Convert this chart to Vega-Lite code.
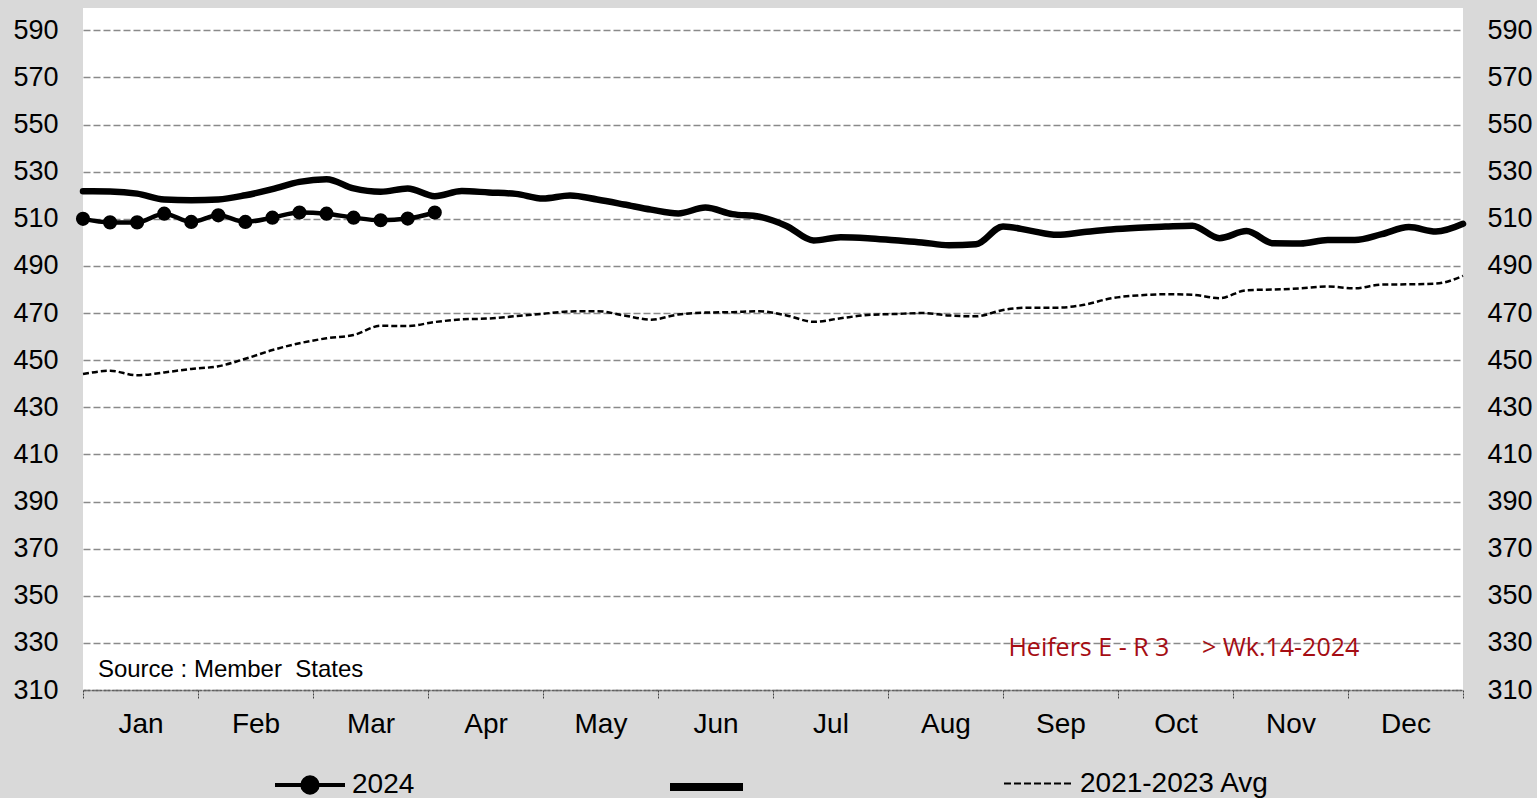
{
  "$schema": "https://vega.github.io/schema/vega-lite/v6.json",
  "width": 1380,
  "height": 682,
  "autosize": {"type": "none"},
  "padding": {"left": 83, "top": 8, "right": 74, "bottom": 108},
  "background": "#d9d9d9",
  "config": {"view": {"fill": "white", "stroke": null}, "font": "Liberation Sans"},
  "datasets": {
    "avg": [
      {"week":1,"price":444.1},{"week":2,"price":445.5},{"week":3,"price":443.6},{"week":4,"price":444.8},{"week":5,"price":446.3},{"week":6,"price":447.4},{"week":7,"price":450.6},{"week":8,"price":454.3},{"week":9,"price":457.2},{"week":10,"price":459.3},{"week":11,"price":460.7},{"week":12,"price":464.6},{"week":13,"price":464.5},{"week":14,"price":466.2},{"week":15,"price":467.3},{"week":16,"price":467.7},{"week":17,"price":468.7},{"week":18,"price":469.7},{"week":19,"price":470.7},{"week":20,"price":470.8},{"week":21,"price":469.0},{"week":22,"price":467.2},{"week":23,"price":469.4},{"week":24,"price":470.2},{"week":25,"price":470.4},{"week":26,"price":470.8},{"week":27,"price":469.0},{"week":28,"price":466.3},{"week":29,"price":467.8},{"week":30,"price":469.2},{"week":31,"price":469.6},{"week":32,"price":470.0},{"week":33,"price":469.0},{"week":34,"price":468.6},{"week":35,"price":471.3},{"week":36,"price":472.3},{"week":37,"price":472.3},{"week":38,"price":473.5},{"week":39,"price":476.3},{"week":40,"price":477.5},{"week":41,"price":478.0},{"week":42,"price":477.8},{"week":43,"price":476.3},{"week":44,"price":479.7},{"week":45,"price":480.0},{"week":46,"price":480.5},{"week":47,"price":481.3},{"week":48,"price":480.5},{"week":49,"price":482.1},{"week":50,"price":482.2},{"week":51,"price":482.5},{"week":52,"price":485.8}
    ],
    "y2023": [
      {"week":1,"price":521.7},{"week":2,"price":521.6},{"week":3,"price":520.7},{"week":4,"price":518.2},{"week":5,"price":517.9},{"week":6,"price":518.2},{"week":7,"price":520.0},{"week":8,"price":522.6},{"week":9,"price":525.7},{"week":10,"price":526.8},{"week":11,"price":522.9},{"week":12,"price":521.5},{"week":13,"price":522.9},{"week":14,"price":519.6},{"week":15,"price":521.8},{"week":16,"price":521.2},{"week":17,"price":520.6},{"week":18,"price":518.6},{"week":19,"price":519.9},{"week":20,"price":518.2},{"week":21,"price":516.1},{"week":22,"price":513.9},{"week":23,"price":512.3},{"week":24,"price":514.8},{"week":25,"price":512.0},{"week":26,"price":510.9},{"week":27,"price":507.0},{"week":28,"price":500.8},{"week":29,"price":502.2},{"week":30,"price":501.8},{"week":31,"price":500.9},{"week":32,"price":500.0},{"week":33,"price":498.8},{"week":34,"price":499.2},{"week":35,"price":506.8},{"week":36,"price":505.0},{"week":37,"price":503.2},{"week":38,"price":504.4},{"week":39,"price":505.5},{"week":40,"price":506.2},{"week":41,"price":506.7},{"week":42,"price":507.1},{"week":43,"price":501.8},{"week":44,"price":504.8},{"week":45,"price":499.6},{"week":46,"price":499.5},{"week":47,"price":501.0},{"week":48,"price":501.0},{"week":49,"price":503.5},{"week":50,"price":506.5},{"week":51,"price":504.6},{"week":52,"price":507.9}
    ],
    "y2024": [
      {"week":1,"price":510.0},{"week":2,"price":508.5},{"week":3,"price":508.5},{"week":4,"price":512.2},{"week":5,"price":508.7},{"week":6,"price":511.5},{"week":7,"price":508.7},{"week":8,"price":510.5},{"week":9,"price":512.7},{"week":10,"price":512.2},{"week":11,"price":510.5},{"week":12,"price":509.4},{"week":13,"price":510.1},{"week":14,"price":512.7}
    ],
    "source": [{"week":1.55,"price":318.5,"label":"Source : Member\u00a0 States"}],
    "title": [{"week":35.2,"price":328.0,"label":"Heifers E - R 3\u00a0\u00a0\u00a0\u00a0\u00a0> Wk.14-2024"}]
  },
  "layer": [
    {
      "data": {"name": "avg"},
      "mark": {"type": "line", "interpolate": "monotone", "strokeWidth": 2.5, "strokeDash": [6, 3]},
      "encoding": {
        "x": {"field": "week", "type": "quantitative", "scale": {"domain": [1, 52], "nice": false, "zero": false},
          "axis": {
            "orient": "bottom",
            "values": [1,3.125,5.25,7.375,9.5,11.625,13.75,15.875,18,20.125,22.25,24.375,26.5,28.625,30.75,32.875,35,37.125,39.25,41.375,43.5,45.625,47.75,49.875,52],
            "labelExpr": "(datum.value - 1) % 4.25 == 0 ? '' : ['Jan','Feb','Mar','Apr','May','Jun','Jul','Aug','Sep','Oct','Nov','Dec'][round((datum.value - 3.125) / 4.25)]",
            "tickOpacity": {"condition": {"test": "(datum.value - 1) % 4.25 == 0", "value": 1}, "value": 0},
            "ticks": true, "tickSize": 8, "tickColor": "#404040", "tickWidth": 1, "tickDash": [2, 1],
            "domain": true, "domainColor": "#606060", "domainDash": [3, 1], "domainWidth": 1.5,
            "grid": false, "title": null,
            "labelFontSize": 28, "labelFont": "Liberation Sans", "labelColor": "#000000", "labelPadding": 12,
            "labelOverlap": false, "labelFlush": false, "labelBound": false
          }},
        "y": {"field": "price", "type": "quantitative", "scale": {"domain": [310, 599.5], "nice": false, "zero": false},
          "axis": {
            "orient": "left",
            "values": [310,330,350,370,390,410,430,450,470,490,510,530,550,570,590],
            "grid": true, "gridColor": "#8a8a8a", "gridDash": [7, 3], "gridWidth": 1.7,
            "domain": false, "ticks": false, "tickSize": 0, "title": null,
            "labelFontSize": 27, "labelFont": "Liberation Sans", "labelColor": "#000000", "labelPadding": 25
          }},
        "color": {"datum": "2021-2023 Avg", "scale": {"range": ["#000000"]},
          "legend": {"orient": "none", "legendX": 920, "legendY": 740, "direction": "horizontal", "title": null,
            "symbolType": "stroke", "symbolSize": 4761, "symbolStrokeWidth": 2, "symbolDash": [7, 3], "symbolStrokeColor": "#000000",
            "labelFontSize": 28, "labelFont": "Liberation Sans", "labelColor": "#000000", "labelOffset": 6, "labelLimit": 400, "padding": 0}}
      }
    },
    {
      "data": {"name": "y2023"},
      "mark": {"type": "line", "interpolate": "monotone", "strokeWidth": 6.5, "strokeCap": "round", "strokeJoin": "round"},
      "encoding": {
        "x": {"field": "week", "type": "quantitative", "scale": {"domain": [1, 52], "nice": false, "zero": false}, "axis": null},
        "y": {"field": "price", "type": "quantitative", "scale": {"domain": [310, 599.5], "nice": false, "zero": false},
          "axis": {
            "orient": "right",
            "values": [310,330,350,370,390,410,430,450,470,490,510,530,550,570,590],
            "grid": false, "domain": false, "ticks": false, "tickSize": 0, "title": null,
            "labelFontSize": 27, "labelFont": "Liberation Sans", "labelColor": "#000000", "labelPadding": 24
          }},
        "color": {"datum": "2023", "scale": {"range": ["#000000"]},
          "legend": {"orient": "none", "legendX": 583, "legendY": 738.5, "direction": "horizontal", "title": null,
            "symbolType": "stroke", "symbolSize": 5329, "symbolStrokeWidth": 8, "symbolStrokeColor": "#000000",
            "labelExpr": "''", "labelFontSize": 28, "labelColor": "#000000", "labelOffset": 6, "padding": 0}}
      }
    },
    {
      "data": {"name": "y2024"},
      "mark": {"type": "line", "interpolate": "monotone", "strokeWidth": 4.5, "point": {"filled": true, "size": 200, "opacity": 1}},
      "encoding": {
        "x": {"field": "week", "type": "quantitative", "scale": {"domain": [1, 52], "nice": false, "zero": false}, "axis": null},
        "y": {"field": "price", "type": "quantitative", "scale": {"domain": [310, 599.5], "nice": false, "zero": false}, "axis": null},
        "color": {"datum": "2024", "scale": {"range": ["#000000"]},
          "legend": {"orient": "none", "legendX": 190, "legendY": 740, "direction": "horizontal", "title": null,
            "symbolType": "M-1,0L1,0M-0.22,0A0.22,0.22,0,1,0,0.22,0A0.22,0.22,0,1,0,-0.22,0Z",
            "symbolSize": 4900, "symbolStrokeWidth": 4, "symbolStrokeColor": "#000000", "symbolFillColor": "#000000", "symbolOpacity": 1,
            "labelFontSize": 28, "labelFont": "Liberation Sans", "labelColor": "#000000", "labelOffset": 5, "padding": 0}}
      }
    },
    {
      "data": {"name": "source"},
      "mark": {"type": "text", "align": "left", "baseline": "middle", "font": "Liberation Sans", "fontSize": 24, "color": "#000000"},
      "encoding": {
        "x": {"field": "week", "type": "quantitative", "scale": {"domain": [1, 52], "nice": false, "zero": false}, "axis": null},
        "y": {"field": "price", "type": "quantitative", "scale": {"domain": [310, 599.5], "nice": false, "zero": false}, "axis": null},
        "text": {"field": "label"}
      }
    },
    {
      "data": {"name": "title"},
      "mark": {"type": "text", "align": "left", "baseline": "middle", "font": "Open Sans", "fontSize": 25, "color": "#a50d13"},
      "encoding": {
        "x": {"field": "week", "type": "quantitative", "scale": {"domain": [1, 52], "nice": false, "zero": false}, "axis": null},
        "y": {"field": "price", "type": "quantitative", "scale": {"domain": [310, 599.5], "nice": false, "zero": false}, "axis": null},
        "text": {"field": "label"}
      }
    }
  ],
  "resolve": {"scale": {"color": "independent"}, "axis": {"x": "independent", "y": "independent"}, "legend": {"color": "independent"}}
}
